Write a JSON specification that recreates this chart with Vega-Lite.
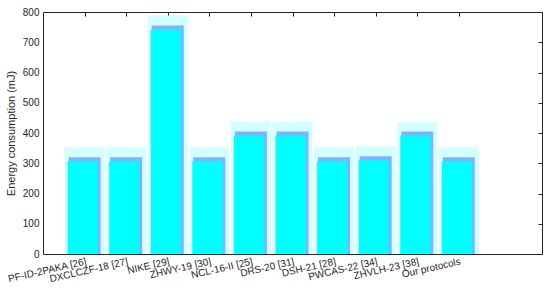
{
  "$schema": "https://vega.github.io/schema/vega-lite/v6.json",
  "width": 499,
  "height": 242,
  "autosize": {"type": "none"},
  "padding": {"left": 43, "top": 12, "right": 8, "bottom": 34},
  "background": "white",
  "config": {
    "font": "Liberation Sans",
    "view": {"stroke": "#262626", "strokeWidth": 1},
    "axis": {
      "domainColor": "#262626",
      "tickColor": "#262626",
      "labelColor": "#262626",
      "titleColor": "#262626",
      "labelFont": "Liberation Sans",
      "titleFont": "Liberation Sans",
      "labelFontSize": 10,
      "titleFontSize": 11,
      "titleFontWeight": "normal",
      "grid": false
    }
  },
  "data": {
    "values": [
      {"protocol": "PF-ID-2PAKA [26]", "energy": 320},
      {"protocol": "DXCLCZF-18 [27]", "energy": 320},
      {"protocol": "NIKE [29]", "energy": 755},
      {"protocol": "ZHWY-19 [30]", "energy": 320},
      {"protocol": "NCL-16-II [25]", "energy": 405},
      {"protocol": "DRS-20 [31]", "energy": 405},
      {"protocol": "DSH-21 [28]", "energy": 320},
      {"protocol": "PWCAS-22 [34]", "energy": 323},
      {"protocol": "ZHVLH-23 [38]", "energy": 405},
      {"protocol": "Our protocols", "energy": 320}
    ]
  },
  "resolve": {"axis": {"x": "independent", "y": "independent"}},
  "layer": [
    {
      "mark": {"type": "bar", "color": "#D2FFFF", "stroke": "#D2FFFF", "strokeWidth": 20, "width": 20, "clip": true},
      "encoding": {
        "x": {
          "field": "protocol",
          "type": "nominal",
          "sort": null,
          "scale": {
            "type": "point",
            "padding": 1,
            "domain": ["PF-ID-2PAKA [26]", "DXCLCZF-18 [27]", "NIKE [29]", "ZHWY-19 [30]", "NCL-16-II [25]", "DRS-20 [31]", "DSH-21 [28]", "PWCAS-22 [34]", "ZHVLH-23 [38]", "Our protocols", "_pad"]
          },
          "axis": {
            "orient": "bottom",
            "title": null,
            "values": ["PF-ID-2PAKA [26]", "DXCLCZF-18 [27]", "NIKE [29]", "ZHWY-19 [30]", "NCL-16-II [25]", "DRS-20 [31]", "DSH-21 [28]", "PWCAS-22 [34]", "ZHVLH-23 [38]", "Our protocols"],
            "labelAngle": -13,
            "labelAlign": "right",
            "labelBaseline": "top",
            "labelPadding": 2,
            "tickSize": 0,
            "domain": false
          }
        },
        "y": {
          "field": "energy",
          "type": "quantitative",
          "scale": {"domain": [0, 800], "nice": false},
          "axis": {
            "orient": "left",
            "title": "Energy consumption (mJ)",
            "values": [0, 100, 200, 300, 400, 500, 600, 700, 800],
            "tickSize": 0,
            "labelPadding": 4,
            "titlePadding": 6,
            "domain": false
          }
        }
      }
    },
    {
      "mark": {"type": "bar", "color": "#80B3FF", "width": 32},
      "encoding": {
        "x": {
          "field": "protocol",
          "type": "nominal",
          "sort": null,
          "axis": {
            "orient": "top",
            "title": null,
            "labels": false,
            "values": ["PF-ID-2PAKA [26]", "DXCLCZF-18 [27]", "NIKE [29]", "ZHWY-19 [30]", "NCL-16-II [25]", "DRS-20 [31]", "DSH-21 [28]", "PWCAS-22 [34]", "ZHVLH-23 [38]", "Our protocols"],
            "tickSize": -4,
            "domain": false
          }
        },
        "y": {
          "field": "energy",
          "type": "quantitative",
          "axis": {
            "orient": "right",
            "title": null,
            "labels": false,
            "values": [0, 100, 200, 300, 400, 500, 600, 700, 800],
            "tickSize": -4,
            "domain": false
          }
        }
      }
    },
    {
      "mark": {"type": "bar", "color": "#00FFFF", "width": 30, "xOffset": -2, "yOffset": 4, "clip": true},
      "encoding": {
        "x": {"field": "protocol", "type": "nominal", "sort": null, "axis": null},
        "y": {"field": "energy", "type": "quantitative", "axis": null}
      }
    }
  ]
}
